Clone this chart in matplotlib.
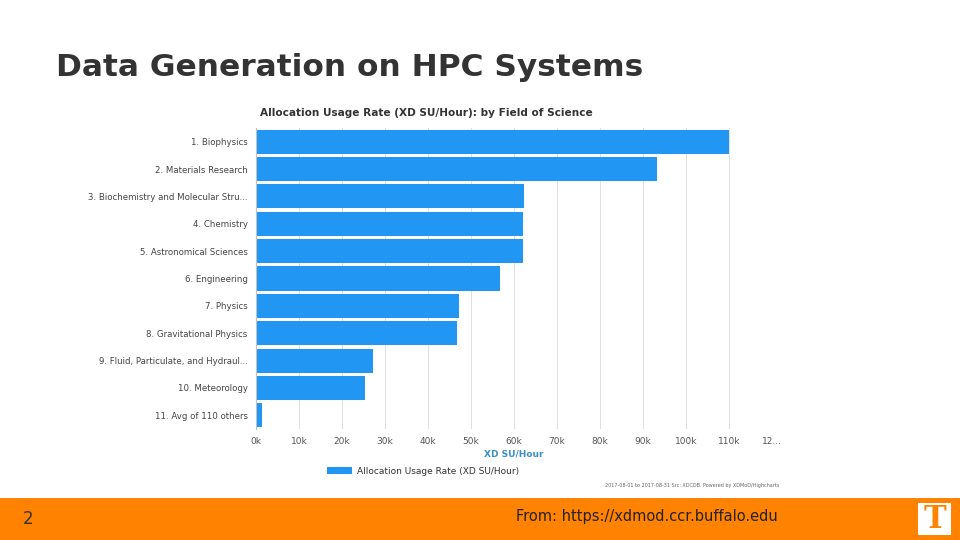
import matplotlib
matplotlib.use("Agg")
import matplotlib.pyplot as plt
from matplotlib.patches import Rectangle

CATEGORIES = [
    "1. Biophysics",
    "2. Materials Research",
    "3. Biochemistry and Molecular Stru...",
    "4. Chemistry",
    "5. Astronomical Sciences",
    "6. Engineering",
    "7. Physics",
    "8. Gravitational Physics",
    "9. Fluid, Particulate, and Hydraul...",
    "10. Meteorology",
    "11. Avg of 110 others",
]
VALUES = [110.0, 93.3, 62.3, 62.1, 62.0, 56.7, 47.2, 46.7, 27.2, 25.3, 1.4]  # thousands
TICKS = list(range(0, 121, 10))
TICK_LABELS = [f"{t}k" for t in TICKS[:-1]] + ["12..."]

W, H = 960, 540
fig = plt.figure(figsize=(9.6, 5.4), dpi=100, facecolor="white")

# slide background
bg = fig.add_axes([0, 0, 1, 1])
bg.set_xlim(0, W)
bg.set_ylim(H, 0)
bg.axis("off")
bg.add_patch(Rectangle((0, 498), W, 42, facecolor="#FF8200", edgecolor="none"))
bg.text(56, 68, "Data Generation on HPC Systems", fontsize=22.5, fontweight="bold",
        family="DejaVu Sans", color="#333333", va="center", ha="left")
bg.text(28, 519, "2", fontsize=12, color="#333333", va="center", ha="center")
bg.text(647, 516, "From: https://xdmod.ccr.buffalo.edu", fontsize=10.5, color="#222222",
        va="center", ha="center")
# logo
bg.add_patch(Rectangle((918, 503), 33, 32, facecolor="white", edgecolor="none"))
bg.text(934.5, 520, "T", fontsize=22, fontweight="bold", family="DejaVu Serif",
        color="#FF8200", va="center", ha="center")

# chart header and footer
bg.text(260, 113, "Allocation Usage Rate (XD SU/Hour): by Field of Science",
        fontsize=7.6, fontweight="semibold", color="#333333", va="center", ha="left")
bg.add_patch(Rectangle((327, 467), 25, 7, facecolor="#2196F3", edgecolor="none"))
bg.text(357, 471, "Allocation Usage Rate (XD SU/Hour)", fontsize=6.5,
        color="#333333", va="center", ha="left")
bg.text(779, 485, "2017-08-01 to 2017-08-31 Src: XDCDB. Powered by XDMoD/Highcharts",
        fontsize=3.5, color="#666666", va="center", ha="right")

# bar chart
left, right, top, bottom = 256, 772, 128, 429
ax = fig.add_axes([left / W, 1 - bottom / H, (right - left) / W, (bottom - top) / H])
y = list(range(len(CATEGORIES)))
ax.barh(y, VALUES, height=0.88, color="#2196F3")
ax.set_ylim(len(CATEGORIES) - 0.5, -0.5)
ax.set_xlim(0, 120)
ax.set_xticks(TICKS)
ax.set_xticklabels(TICK_LABELS, fontsize=6.5, color="#555555")
ax.set_yticks(y)
ax.set_yticklabels(CATEGORIES, fontsize=6.2, color="#444444")
ax.tick_params(length=0, pad=6)
ax.grid(axis="x", color="#E0E0E0", lw=0.7)
ax.set_axisbelow(True)
for s in ["top", "right", "bottom"]:
    ax.spines[s].set_visible(False)
ax.spines["left"].set_color("#C0C0C0")
ax.set_xlabel("XD SU/Hour", fontsize=6.5, fontweight="bold", color="#3A8FC8", labelpad=2)

fig.savefig("out.png", dpi=100, facecolor="white")
